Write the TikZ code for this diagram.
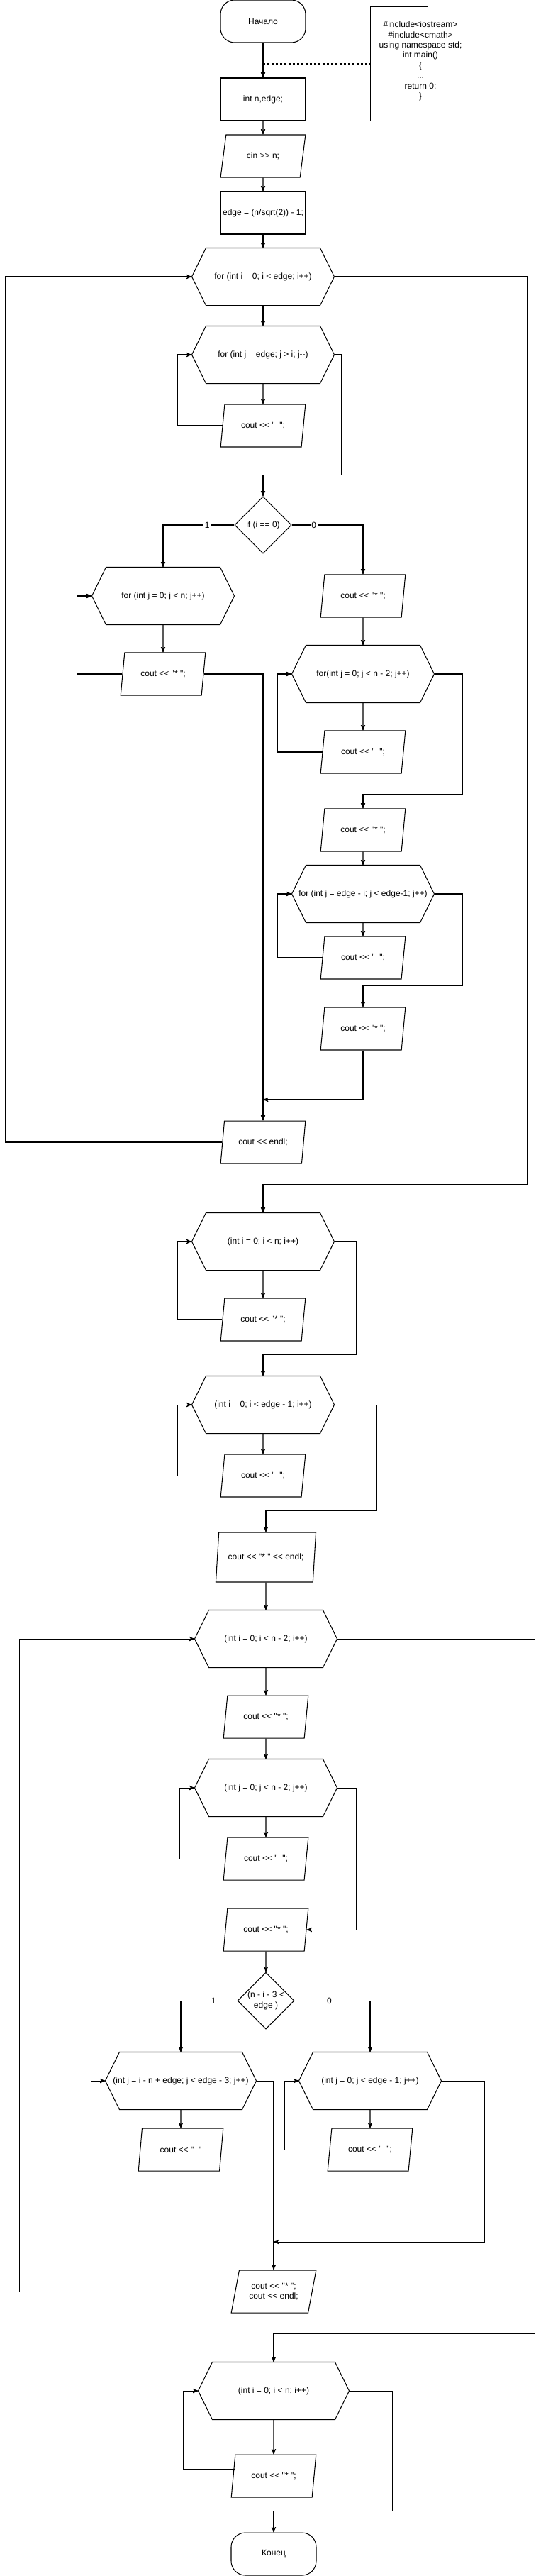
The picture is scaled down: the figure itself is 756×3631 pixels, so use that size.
\documentclass[tikz,border=0pt]{standalone}
\usepackage{fontspec}
\setmainfont{Liberation Sans}[Ligatures=TeXOff]
\usetikzlibrary{arrows,shapes.geometric}

\begin{document}
\begin{tikzpicture}[->,semithick,>=stealth',x=0.02cm,y=-0.02cm,font=\fontsize{6.83}{8.2}\selectfont]
    \tikzstyle{blk}=[draw=black, minimum width=2.4cm, minimum height=1.2cm, inner sep=0pt, align=center, text=black]
    \tikzstyle{term}=[style=blk, rounded corners=0.4cm]
    \tikzstyle{box}=[style=blk]
    \tikzstyle{io}=[style=blk, trapezium, trapezium left angle=71.57, trapezium right angle=108.43, trapezium stretches=true]
    \tikzstyle{cond}=[style=blk, diamond, minimum width=1.6cm, minimum height=1.6cm]
    \tikzstyle{cyc}=[minimum width=4cm, minimum height=1.6cm, inner sep=0pt, align=center,
      append after command={\pgfextra{\draw[-] (\tikzlastnode.west) -- ([xshift=4mm]\tikzlastnode.north west)
        -- ([xshift=-4mm]\tikzlastnode.north east) -- (\tikzlastnode.east)
        -- ([xshift=-4mm]\tikzlastnode.south east) -- ([xshift=4mm]\tikzlastnode.south west) -- cycle;}}]
    \tikzstyle{lbl}=[fill=white, inner sep=1pt]

    \useasboundingbox (0,0) rectangle (756,3631);

    % head
    \node[term] (start) at (371,30) {Начало};
    \node[minimum width=1.6cm, minimum height=3.2cm, inner sep=0pt] (note) at (563,90) {};
    \node[align=center] (src) at (593,86) {\#include<iostream>\\\#include<cmath>\\using namespace std;\\int main()\\\{\\...\\return 0;\\\}};
    \coordinate (tap) at (371,90);
    \node[box] (var) at (371,140) {int n,edge;};
    \node[io] (inp) at (371,220) {cin >> n;};
    \node[box] (calc) at (371,300) {edge = (n/sqrt(2)) - 1;};

    % upper half
    \node[cyc] (fori) at (371,390) {for (int i = 0; i < edge; i++)};
    \node[cyc] (forj1) at (371,500) {for (int j = edge; j > i; j--)};
    \node[io] (sp1) at (371,600) {cout << "\ \ ";};
    \node[cond] (if1) at (371,740) {if (i == 0)};
    \node[cyc] (forj2) at (230,840) {for (int j = 0; j < n; j++)};
    \node[io] (st1) at (230,950) {cout << "* ";};
    \node[io] (st2) at (512,840) {cout << "* ";};
    \node[cyc] (forj3) at (512,950) {for(int j = 0; j < n - 2; j++)};
    \node[io] (sp2) at (512,1060) {cout << "\ \ ";};
    \node[io] (st3) at (512,1170) {cout << "* ";};
    \node[cyc] (forj4) at (512,1260) {for (int j = edge - i; j < edge-1; j++)};
    \node[io] (sp3) at (512,1350) {cout << "\ \ ";};
    \node[io] (st4) at (512,1450) {cout << "* ";};
    \coordinate (join1) at (371,1550);
    \node[io] (endl1) at (371,1610) {cout << endl;};

    % middle row
    \node[cyc] (fori2) at (371,1750) {(int i = 0; i < n; i++)};
    \node[io] (st5) at (371,1860) {cout << "* ";};
    \node[cyc] (fori3) at (371,1980) {(int i = 0; i < edge - 1; i++)};
    \node[io] (sp4) at (371,2080) {cout << "\ \ ";};
    \node[io, minimum width=2.84cm, minimum height=1.4cm] (endl2) at (375,2195) {cout << "* " << endl;};

    % lower half
    \node[cyc] (fori4) at (375,2310) {(int i = 0; i < n - 2; i++)};
    \node[io] (st6) at (375,2420) {cout << "* ";};
    \node[cyc] (forj5) at (375,2520) {(int j = 0; j < n - 2; j++)};
    \node[io] (sp5) at (375,2620) {cout << "\ \ ";};
    \node[io] (st7) at (375,2720) {cout << "* ";};
    \node[cond] (if2) at (375,2820) {(n - i - 3 <\\edge )};
    \node[cyc, minimum width=4.24cm] (forj6) at (255,2933) {(int j = i - n + edge; j < edge - 3; j++)};
    \node[io] (sp6) at (255,3030) {cout << "\ \ "};
    \node[cyc] (forj7) at (522,2933) {(int j = 0; j < edge - 1; j++)};
    \node[io] (sp7) at (522,3030) {cout << "\ \ ";};
    \coordinate (join2) at (386,3160);
    \node[io] (endl3) at (386,3230) {cout << "* ";\\cout << endl;};

    % tail
    \node[cyc, minimum width=4.24cm] (fori5) at (386,3370) {(int i = 0; i < n; i++)};
    \node[io] (st8) at (386,3490) {cout << "* ";};
    \node[term] (stop) at (386,3600) {Конец};

    \path
     (start) edge (var)
     (var) edge (inp)
     (inp) edge (calc)
     (calc) edge (fori)
     (fori) edge (forj1)
     (forj1) edge (sp1)
     (forj2) edge (st1)
     (st2) edge (forj3)
     (forj3) edge (sp2)
     (st3) edge (forj4)
     (forj4) edge (sp3)
     (fori2) edge (st5)
     (fori3) edge (sp4)
     (endl2) edge (fori4)
     (fori4) edge (st6)
     (st6) edge (forj5)
     (forj5) edge (sp5)
     (st7) edge (if2)
     (forj6) edge (sp6)
     (forj7) edge (sp7)
     (fori5) edge (st8)
     ;

    % loops back
    \draw (sp1.west) -| ([xshift=-4mm]forj1.west) -- (forj1.west);
    \draw (st1.west) -| ([xshift=-4.2mm]forj2.west) -- (forj2.west);
    \draw (sp2.west) -| ([xshift=-4mm]forj3.west) -- (forj3.west);
    \draw (sp3.west) -| ([xshift=-4mm]forj4.west) -- (forj4.west);
    \draw (endl1.west) -| ([xshift=-5.26cm]fori.west) -- (fori.west);
    \draw (st5.west) -| ([xshift=-4mm]fori2.west) -- (fori2.west);
    \draw (sp4.west) -| ([xshift=-4mm]fori3.west) -- (fori3.west);
    \draw (sp5.west) -| ([xshift=-4.2mm]forj5.west) -- (forj5.west);
    \draw (sp6.west) -| ([xshift=-4mm]forj6.west) -- (forj6.west);
    \draw (sp7.west) -| ([xshift=-4mm]forj7.west) -- (forj7.west);
    \draw (endl3.west) -| ([xshift=-4.94cm]fori4.west) -- (fori4.west);
    \draw ([shift={(0.7mm,2mm)}]st8.west) -| ([xshift=-4.2mm]fori5.west) -- (fori5.west);

    % exits and branches
    \draw (forj1.east) -- ++(10,0) |- ([yshift=6mm]if1.north) -- (if1.north);
    \draw (if1.west) -| node[lbl,pos=0.19] {1} (forj2.north);
    \draw (if1.east) -| node[lbl,pos=0.155] {0} (st2.north);
    \draw (st1.east) -| (endl1.north);
    \draw (forj3.east) -- ++(40,0) |- ([yshift=4mm]st3.north) -- (st3.north);
    \draw (forj4.east) -- ++(40,0) |- ([yshift=6mm]st4.north) -- (st4.north);
    \draw (st4.south) |- (join1);
    \draw (fori.east) -- ++(273,0) |- ([yshift=8mm]fori2.north) -- (fori2.north);
    \draw (fori2.east) -- ++(31,0) |- ([yshift=6mm]fori3.north) -- (fori3.north);
    \draw (fori3.east) -- ++(60,0) |- ([yshift=6mm]endl2.north) -- (endl2.north);
    \draw (forj5.east) -- ++(27,0) |- (st7.east);
    \draw (if2.west) -| node[lbl,pos=0.21] {1} (forj6.north);
    \draw (if2.east) -| node[lbl,pos=0.23] {0} (forj7.north);
    \draw (forj6.east) -| (endl3.north);
    \draw (forj7.east) -- ++(61,0) |- (join2);
    \draw (fori4.east) -- ++(279,0) |- ([yshift=8mm]fori5.north) -- (fori5.north);
    \draw (fori5.east) -- ++(61,0) |- ([yshift=6mm]stop.north) -- (stop.north);

    % comment bracket
    \draw[-] (note.north east) -- (note.north west) -- (note.south west) -- (note.south east);
    \draw[-,dash pattern=on 0.06cm off 0.06cm] (tap) -- (note.west);
\end{tikzpicture}
\end{document}
